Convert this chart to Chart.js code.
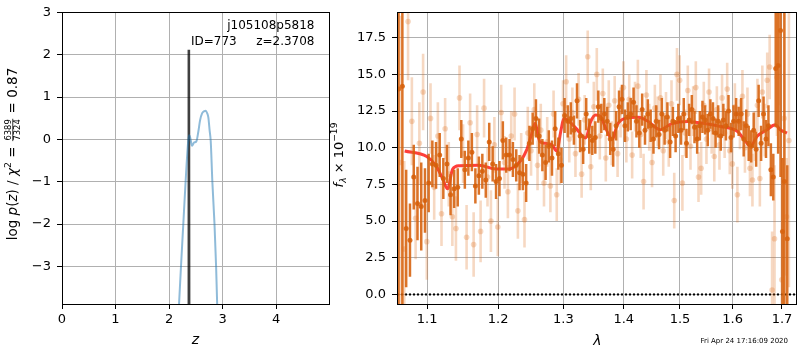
<!DOCTYPE html>
<html><head><meta charset="utf-8">
<script src="https://cdn.jsdelivr.net/npm/chart.js@4.4.1/dist/chart.umd.min.js"></script>
<style>
html,body{margin:0;padding:0;background:#fff;}
#wrap{position:relative;width:800px;height:350px;background:#fff;}
canvas{position:absolute;left:0;top:0;}
</style></head><body>
<div id="wrap"><canvas id="c1" width="800" height="350"></canvas><canvas id="c2" width="800" height="350"></canvas></div>
<script>
// ---------- data: left panel ----------
const zTicks=[0,1,2,3,4];
const logpTicks=[-3,-2,-1,0,1,2,3];
const pzZ=[2.17,2.187,2.224,2.267,2.31,2.36,2.38,2.40,2.43,2.47,2.51,2.55,2.58,2.62,2.66,2.686,2.71,2.735,2.76,2.78,2.81,2.85,2.88,2.90,2.92];
const pzLogp=[-4.3,-3.9,-3.0,-2.0,-1.0,-0.02,0.1,0.02,-0.15,-0.07,-0.05,0.2,0.45,0.62,0.67,0.68,0.63,0.52,0.2,-0.05,-1.0,-2.0,-3.0,-3.89,-4.5];
const spikeZ=[2.3655,2.3708,2.3761];
const spikeLogp=[-4.5,2.12,-4.5];
const objName='j105108p5818', objId='ID=773', objZ='z=2.3708';
const chiNum='6389', chiDen='7324', chiVal='0.87';
// ---------- data: right panel ----------
const lamTicks=[1.1,1.2,1.3,1.4,1.5,1.6,1.7];
const fluxTicks=[0,2.5,5,7.5,10,12.5,15,17.5];
const darkLam=[1.062,1.067,1.072,1.077,1.082,1.087,1.092,1.097,1.102,1.107,
1.112,1.117,1.122,1.127,1.132,1.137,1.142,1.147,1.152,1.157,
1.162,1.167,1.172,1.177,1.182,1.187,1.192,1.197,1.202,1.207,
1.212,1.217,1.222,1.227,1.232,1.237,1.242,1.247,1.252,1.257,
1.262,1.267,1.272,1.277,1.282,1.287,1.292,1.297,1.302,1.307,
1.312,1.317,1.322,1.327,1.332,1.337,1.342,1.347,1.352,1.357,
1.362,1.367,1.372,1.377,1.382,1.387,1.392,1.397,1.402,1.407,
1.412,1.417,1.422,1.427,1.432,1.437,1.442,1.447,1.452,1.457,
1.462,1.467,1.472,1.477,1.482,1.487,1.492,1.497,1.502,1.507,
1.512,1.517,1.522,1.527,1.532,1.537,1.542,1.547,1.552,1.557,
1.562,1.567,1.572,1.577,1.582,1.587,1.592,1.597,1.602,1.607,
1.612,1.617,1.622,1.627,1.632,1.637,1.642,1.647,1.652,1.657,
1.662,1.667,1.672,1.677,1.682,1.687,1.692,1.697,1.701,1.705,1.711];
const darkFlux=[14.0,14.2,4.5,3.7,8.0,6.2,6.0,6.4,7.6,8.9,
8.8,9.5,7.9,8.9,6.8,7.2,7.3,10.6,8.5,9.3,
9.7,7.4,8.1,8.4,7.8,10.4,8.9,7.7,7.9,10.5,
9.5,9.5,9.2,8.8,8.3,8.2,7.6,10.3,11.3,12.0,
10.8,9.5,9.0,10.1,9.3,11.3,9.6,8.8,12.2,11.8,
12.0,11.2,13.2,10.8,9.9,12.3,10.8,10.5,10.7,12.8,
12.0,12.3,11.8,10.6,9.9,11.5,12.8,13.3,11.5,12.1,
12.3,13.1,11.8,11.0,12.6,11.2,12.3,11.5,10.6,11.8,
10.9,12.3,11.2,12.1,10.4,11.8,10.8,12.0,11.2,12.3,
10.3,11.9,12.6,11.4,10.6,11.5,12.1,11.9,11.2,12.3,
12.0,11.0,11.8,10.8,11.9,11.5,12.5,10.7,11.8,12.3,
11.8,12.3,10.6,11.5,10.3,10.1,11.2,9.9,13.2,10.3,
12.3,10.6,11.5,8.5,8.0,15.4,15.6,18.0,4.3,7.7,3.8];
const darkErr=[20,20,4,2.5,2.2,2.5,3.0,2.2,2.0,1.6,
1.6,1.5,1.4,1.3,1.4,1.3,1.3,1.3,1.3,1.2,
1.3,1.2,1.3,1.2,1.2,1.3,1.2,1.2,1.2,1.3,
1.2,1.1,1.2,1.1,1.2,1.1,1.3,1.2,1.1,1.3,
1.2,1.1,1.2,1.1,1.2,1.2,1.1,1.2,1.2,1.1,
1.1,1.0,1.2,1.1,1.0,1.1,1.2,1.0,1.1,1.1,
1.0,1.1,1.0,1.1,1.2,1.0,1.1,1.0,1.1,1.0,
1.1,1.0,1.1,1.0,1.1,1.0,1.0,1.1,1.0,1.1,
1.0,1.1,1.0,1.0,1.1,1.0,1.1,1.0,1.0,1.1,
1.0,1.1,1.0,1.1,1.0,1.0,1.1,1.0,1.1,1.0,
1.1,1.0,1.1,1.0,1.1,1.0,1.1,1.0,1.1,1.1,
1.0,1.1,1.2,1.1,1.2,1.1,1.2,1.2,1.1,1.2,
1.2,1.3,1.4,1.8,1.6,4.0,6.0,10,5,14,5];
const lightLam=[1.0645,1.0695,1.0745,1.0795,1.0845,1.0895,1.0945,1.0995,1.1045,1.1095,
1.1145,1.1195,1.1245,1.1295,1.1345,1.1395,1.1445,1.1495,1.1545,1.1595,
1.1645,1.1695,1.1745,1.1795,1.1845,1.1895,1.1945,1.1995,1.2045,1.2095,
1.2145,1.2195,1.2245,1.2295,1.2345,1.2395,1.2445,1.2495,1.2545,1.2595,
1.2645,1.2695,1.2745,1.2795,1.2845,1.2895,1.2945,1.2995,1.3045,1.3095,
1.3145,1.3195,1.3245,1.3295,1.3345,1.3395,1.3445,1.3495,1.3545,1.3595,
1.3645,1.3695,1.3745,1.3795,1.3845,1.3895,1.3945,1.3995,1.4045,1.4095,
1.4145,1.4195,1.4245,1.4295,1.4345,1.4395,1.4445,1.4495,1.4545,1.4595,
1.4645,1.4695,1.4745,1.4795,1.4845,1.4895,1.4945,1.4995,1.5045,1.5095,
1.5145,1.5195,1.5245,1.5295,1.5345,1.5395,1.5445,1.5495,1.5545,1.5595,
1.5645,1.5695,1.5745,1.5795,1.5845,1.5895,1.5945,1.5995,1.6045,1.6095,
1.6145,1.6195,1.6245,1.6295,1.6345,1.6395,1.6445,1.6495,1.6545,1.6595,
1.6645,1.6695,1.6745,1.6795,1.6845,1.6895,1.6945,1.6995,1.7045,1.7095,1.7145];
const lightFlux=[9.0,3.1,18.6,11.8,5.2,10.3,13.8,3.6,12.0,7.3,
10.8,5.5,11.3,8.2,5.3,4.5,13.4,9.6,3.9,11.7,
3.4,10.9,4.3,12.7,8.0,5.0,10.2,4.6,12.4,9.0,
7.0,10.8,12.3,5.7,9.3,5.1,11.0,9.8,12.6,8.8,
11.2,7.6,10.4,7.4,12.3,6.8,9.2,13.0,14.5,10.6,
12.4,9.6,13.3,8.2,11.9,16.2,8.7,12.8,15.0,10.8,
13.7,9.3,12.9,10.3,13.2,9.6,12.4,14.1,10.6,13.3,
9.5,12.8,14.2,10.9,7.7,13.6,11.4,9.0,12.7,11.8,
13.4,9.8,12.2,10.4,13.0,6.4,15.0,14.6,7.6,11.0,
13.9,10.1,12.5,14.1,8.0,8.6,12.9,10.6,13.8,11.3,
9.4,12.6,10.2,13.4,11.0,14.0,9.8,8.9,12.8,6.8,
11.6,13.5,10.0,12.3,8.6,7.8,10.8,12.9,7.9,13.8,
11.2,14.6,15.5,0.3,3.8,14.8,17.9,1.0,12.0,5.3,10.5];
const lightErr=[10,6,4,3,2.8,2.8,2.6,2.6,2.4,2.2,
2.3,2.2,2.1,2.2,2.0,2.2,2.2,2.0,2.2,2.0,
2.2,2.0,2.1,2.0,2.0,2.1,1.9,2.0,1.9,1.8,
1.8,1.7,1.8,1.9,1.7,1.9,1.8,1.7,1.8,1.7,
1.8,1.6,1.7,1.8,1.6,1.8,1.7,1.6,1.8,1.6,
1.7,1.6,1.8,1.6,1.7,1.8,1.6,1.7,1.8,1.6,
1.7,1.6,1.7,1.5,1.7,1.6,1.7,1.8,1.6,1.7,
1.6,1.7,1.8,1.6,1.9,1.7,1.6,1.7,1.6,1.7,
1.6,1.7,1.6,1.7,1.6,1.9,1.8,1.7,1.9,1.6,
1.7,1.6,1.7,1.8,1.7,1.8,1.6,1.7,1.6,1.7,
1.7,1.6,1.7,1.6,1.7,1.8,1.6,1.7,1.6,1.9,
1.7,1.8,1.7,1.8,1.9,1.8,1.7,1.8,1.9,1.8,
1.8,1.9,2.2,4,5,4,5,8,8,4,10];
const modelLam=[1.0700,1.0994,1.1121,1.1211,1.1279,1.1349,1.1441,1.1724,1.1965,1.2157,
1.2333,1.2432,1.2508,1.2559,1.2625,1.2713,1.2816,1.2894,1.2964,1.3007,
1.3095,1.3201,1.3362,1.3445,1.3526,1.3610,1.3693,1.3805,1.3889,1.4024,
1.4253,1.4428,1.4636,1.4843,1.5141,1.5327,1.5768,1.6092,1.6256,1.6355,
1.6490,1.6691,1.6861,1.6963,1.7104];
const modelFlux=[9.78,9.40,8.77,7.88,7.20,8.55,8.77,8.81,8.55,8.55,
9.10,9.89,11.0,11.67,10.45,10.3,10.22,9.78,11.23,12.0,
11.79,11.34,10.67,11.79,12.23,12.12,11.34,10.56,11.56,12.0,
12.08,11.79,11.23,11.63,11.79,11.72,11.45,11.12,10.45,10.11,
10.78,11.23,11.56,11.23,11.0];
const zeroLam=[1.06,1.73];
const zeroFlux=[0,0];
const stamp='Fri Apr 24 17:16:09 2020';

// ---------- helpers ----------
const FAM='"DejaVu Sans"';
const pts=(xs,ys)=>xs.map((x,i)=>({x:x,y:ys[i]}));
const fixed=(arr)=>(s)=>{s.ticks=arr.map(v=>({value:v}));};
const minus=(v)=>(v<0?'\u2212'+Math.abs(v):String(v));

const errorBars={id:'errorBars',beforeDatasetDraw(chart,args){
  const ds=chart.data.datasets[args.index]; if(!ds.err) return;
  const {ctx,chartArea:a}=chart; const xs=chart.scales.x, ys=chart.scales.y;
  ctx.save(); ctx.beginPath(); ctx.rect(a.left,a.top,a.right-a.left,a.bottom-a.top); ctx.clip();
  ctx.strokeStyle=ds.errColor; ctx.lineWidth=ds.errWidth; ctx.lineCap='butt';
  ds.data.forEach((p,i)=>{const px=xs.getPixelForValue(p.x);
    ctx.beginPath(); ctx.moveTo(px,ys.getPixelForValue(p.y-ds.err[i])); ctx.lineTo(px,ys.getPixelForValue(p.y+ds.err[i])); ctx.stroke();});
  ctx.restore();
}};
function al(v){return Math.round(v-0.5)+0.5;}
const spines={id:'spines',afterDraw(chart){
  const {ctx,chartArea:a}=chart; ctx.save(); ctx.strokeStyle='#000'; ctx.lineWidth=1;
  ctx.strokeRect(al(a.left),al(a.top),al(a.right)-al(a.left),al(a.bottom)-al(a.top)); ctx.restore();
}};
function drawRuns(ctx,runs,cx,cy,S,rot){
  const font=(r)=>(r.it?'italic ':'')+(S*(r.sc||1)).toFixed(2)+'px '+FAM;
  let total=0;
  runs.forEach(r=>{ctx.font=font(r);
    if(r.frac){r.w=Math.max(ctx.measureText(r.frac[0]).width,ctx.measureText(r.frac[1]).width)+S*0.24;}
    else r.w=ctx.measureText(r.t).width; total+=r.w;});
  ctx.save(); ctx.translate(cx,cy); if(rot) ctx.rotate(-Math.PI/2);
  let x=-total/2; const base=S*0.36;
  ctx.fillStyle='#000'; ctx.textBaseline='alphabetic';
  runs.forEach(r=>{ctx.font=font(r);
    if(r.frac){const bar=base-S*0.3, c=x+r.w/2; ctx.textAlign='center';
      ctx.fillText(r.frac[0],c,bar-S*0.1); ctx.fillText(r.frac[1],c,bar+S*0.1+S*r.sc*0.73);
      ctx.fillRect(x+S*0.08,bar-0.4,r.w-S*0.16,0.8);}
    else {ctx.textAlign='left'; ctx.fillText(r.t,x,base+(r.dy||0)*S);}
    x+=r.w;});
  ctx.restore();
}
function axisOpts(extra){
  return Object.assign({
    grid:{color:'#b0b0b0',lineWidth:1,tickColor:'#000',tickLength:5,drawTicks:true},
    border:{display:true,color:'#000',width:1},
    ticks:{color:'#000',font:{family:FAM,size:13,lineHeight:1},autoSkip:false,maxRotation:0,minRotation:0}
  },extra);
}

// ---------- left chart ----------
const leftText={id:'leftText',afterDraw(chart){
  const ctx=chart.ctx; ctx.save(); ctx.fillStyle='#000';
  ctx.font='12px '+FAM; ctx.textBaseline='alphabetic';
  ctx.textAlign='right'; ctx.fillText(objName,314.5,29); ctx.fillText(objZ,314.5,45);
  ctx.textAlign='left'; ctx.fillText(objId,191,45);
  ctx.font='italic 14px '+FAM; ctx.textAlign='center'; ctx.fillText('z',195.5,344);
  ctx.restore();
  drawRuns(ctx,[{t:'log'},{t:' '},{t:'p',it:1},{t:'('},{t:'z',it:1},{t:')'},{t:' / '},{t:'\u03c7',it:1},
    {t:'2',sc:0.7,dy:-0.42},{t:' = '},{frac:[chiNum,chiDen],sc:0.62},{t:' = '+chiVal}],12,154,13.5,true);
}};
new Chart(document.getElementById('c1'),{
  type:'scatter',
  data:{datasets:[
    {data:pts(pzZ,pzLogp),showLine:true,borderColor:'rgba(31,119,180,0.5)',borderWidth:2,pointRadius:0,cubicInterpolationMode:'monotone',clip:0},
    {data:pts(spikeZ,spikeLogp),showLine:true,borderColor:'rgba(0,0,0,0.75)',borderWidth:2.6,pointRadius:0,tension:0,clip:0}
  ]},
  options:{responsive:false,animation:false,events:[],devicePixelRatio:1,
    layout:{padding:{left:0,right:471,top:7,bottom:0}},
    plugins:{legend:{display:false},tooltip:{enabled:false}},
    scales:{
      x:axisOpts({type:'linear',min:0,max:4.99,afterBuildTicks:fixed(zTicks),afterFit:(s)=>{s.height=46;},
        ticks:{color:'#000',font:{family:FAM,size:13,lineHeight:1},padding:4,maxRotation:0,autoSkip:false,callback:(v)=>minus(v)}}),
      y:axisOpts({type:'linear',min:-3.89,max:3,afterBuildTicks:fixed(logpTicks),afterFit:(s)=>{s.width=62;},
        ticks:{color:'#000',font:{family:FAM,size:13,lineHeight:1},padding:6,autoSkip:false,callback:(v)=>minus(v)}})
    }},
  plugins:[spines,leftText]
});

// ---------- right chart ----------
const rightText={id:'rightText',afterDraw(chart){
  const ctx=chart.ctx; ctx.save(); ctx.fillStyle='#000';
  ctx.font='italic 14px '+FAM; ctx.textAlign='center'; ctx.textBaseline='alphabetic'; ctx.fillText('\u03bb',597.5,345);
  ctx.font='7px '+FAM; ctx.textAlign='right'; ctx.fillText(stamp,788,342.5);
  ctx.restore();
  drawRuns(ctx,[{t:'f',it:1},{t:'\u03bb',it:1,sc:0.7,dy:0.22},{t:' \u00d7 10'},{t:'\u221219',sc:0.7,dy:-0.42}],338,155,13,true);
}};
const orangeDark='rgba(214,96,10,0.88)';
const orangeLight='rgba(222,110,30,0.27)';
new Chart(document.getElementById('c2'),{
  type:'scatter',
  data:{datasets:[
    {data:pts(lightLam,lightFlux),err:lightErr,errColor:orangeLight,errWidth:2.6,pointRadius:2.8,pointBackgroundColor:orangeLight,pointBorderWidth:0,showLine:false,clip:0},
    {data:pts(darkLam,darkFlux),err:darkErr,errColor:orangeDark,errWidth:2.5,pointRadius:2.5,pointBackgroundColor:orangeDark,pointBorderWidth:0,showLine:false,clip:0},
    {data:pts(modelLam,modelFlux),showLine:true,borderColor:'rgba(255,15,10,0.8)',borderWidth:3,pointRadius:0,cubicInterpolationMode:'monotone',clip:0},
    {data:pts(zeroLam,zeroFlux),showLine:true,borderColor:'#000',borderWidth:2,borderDash:[2,2],pointRadius:0,clip:0}
  ]},
  options:{responsive:false,animation:false,events:[],devicePixelRatio:1,
    layout:{padding:{left:340,right:1,top:7,bottom:0}},
    plugins:{legend:{display:false},tooltip:{enabled:false}},
    scales:{
      x:axisOpts({type:'logarithmic',min:1.06,max:1.7295,afterBuildTicks:fixed(lamTicks),afterFit:(s)=>{s.height=46;},
        ticks:{color:'#000',font:{family:FAM,size:13,lineHeight:1},padding:4,maxRotation:0,autoSkip:false,callback:(v)=>Number(v).toFixed(1)}}),
      y:axisOpts({type:'linear',min:-0.65,max:19.22,afterBuildTicks:fixed(fluxTicks),afterFit:(s)=>{s.width=57;},
        ticks:{color:'#000',font:{family:FAM,size:13,lineHeight:1},padding:6,autoSkip:false,callback:(v)=>Number(v).toFixed(1)}})
    }},
  plugins:[errorBars,spines,rightText]
});
</script>
</body></html>
